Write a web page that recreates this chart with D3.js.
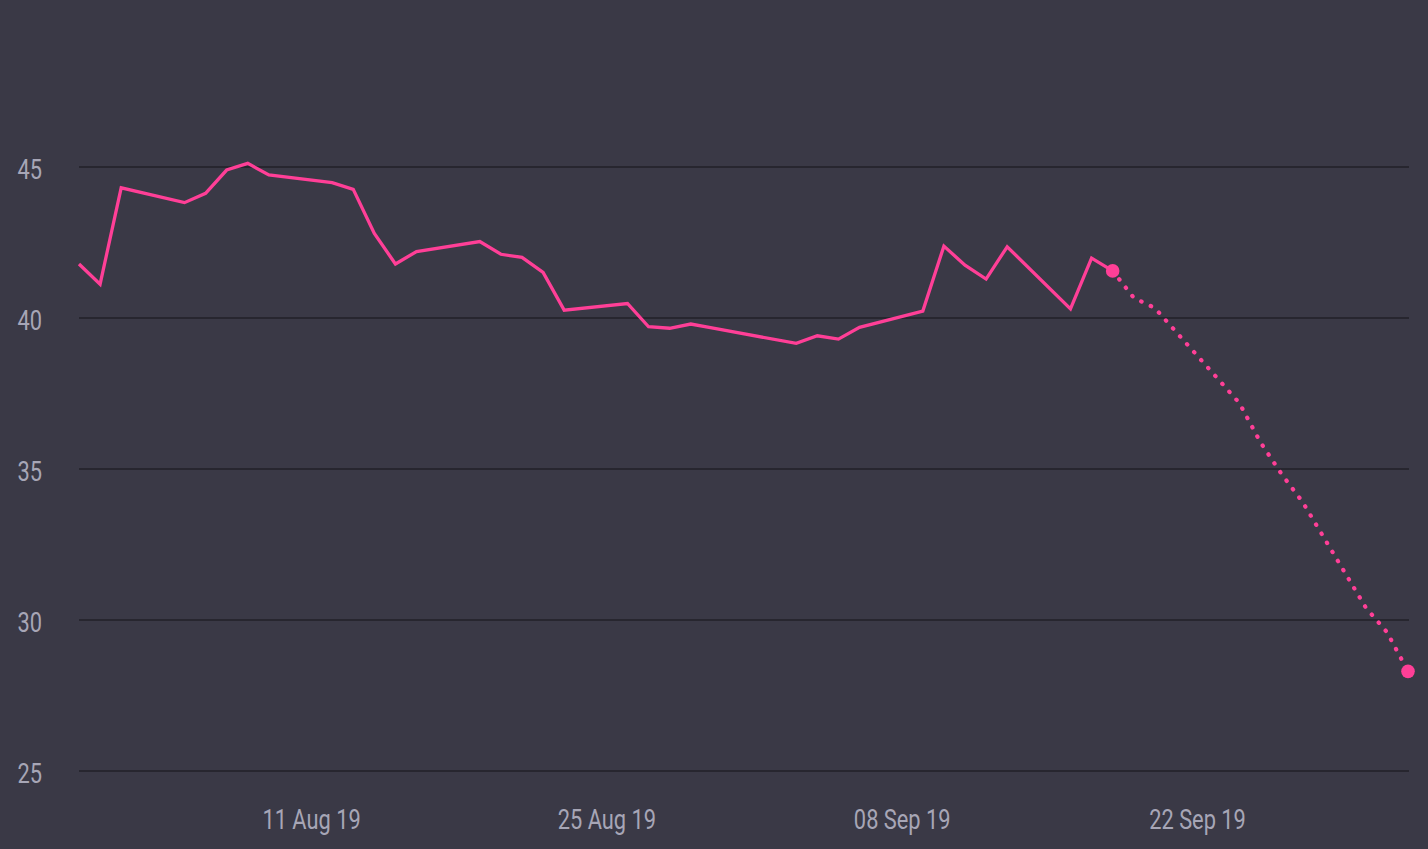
<!DOCTYPE html>
<html>
<head>
<meta charset="utf-8">
<script src="https://cdn.jsdelivr.net/npm/d3@7"></script>
<style>
  html, body { margin: 0; padding: 0; background: #3a3946; overflow: hidden; }
  svg { display: block; }
</style>
</head>
<body>
<svg id="chart" width="1428" height="849"></svg>
<script>
// Actual series (business days)
const actualDates = ["2019-07-31","2019-08-01","2019-08-02","2019-08-05","2019-08-06","2019-08-07","2019-08-08","2019-08-09",
  "2019-08-12","2019-08-13","2019-08-14","2019-08-15","2019-08-16","2019-08-19","2019-08-20","2019-08-21","2019-08-22","2019-08-23",
  "2019-08-26","2019-08-27","2019-08-28","2019-08-29","2019-08-30","2019-09-03","2019-09-04","2019-09-05","2019-09-06",
  "2019-09-09","2019-09-10","2019-09-11","2019-09-12","2019-09-13","2019-09-16","2019-09-17","2019-09-18"];
const actualValues = [41.79,41.12,44.31,43.82,44.13,44.90,45.12,44.74,
  44.48,44.26,42.80,41.79,42.20,42.53,42.11,42.01,41.51,40.26,
  40.48,39.71,39.66,39.80,39.67,39.16,39.41,39.30,39.69,
  40.23,42.38,41.75,41.29,42.36,40.30,41.98,41.56];
// Forecast series
const forecastDates = ["2019-09-18","2019-09-19","2019-09-20","2019-09-24","2019-09-25","2019-09-26","2019-09-27","2019-09-30","2019-10-01","2019-10-02"];
const forecastValues = [41.56,40.67,40.33,37.19,35.89,34.84,33.91,30.41,29.60,28.30];
// Axis ticks
const yTicks = [25,30,35,40,45];
const xTickDates = ["2019-08-11","2019-08-25","2019-09-08","2019-09-22"];

const parse = d3.timeParse("%Y-%m-%d");
const actual = actualDates.map((d,i)=>({date:parse(d), value:actualValues[i]}));
const forecast = forecastDates.map((d,i)=>({date:parse(d), value:forecastValues[i]}));

const W = 1428, H = 849;
const margin = {left:79, right:20, top:167, bottom:78};
const svg = d3.select("#chart");

const x = d3.scaleTime()
  .domain([parse("2019-07-31"), parse("2019-10-02")])
  .range([margin.left, W - margin.right]);
const y = d3.scaleLinear()
  .domain([25, 45])
  .range([H - margin.bottom, margin.top]);

const fontFam = "Roboto, 'Noto Sans', sans-serif";
const textColor = "#a7a6b6";
const squeeze = 0.78;

// Gridlines
const gridX2 = x.range()[1] + 1;
svg.append("g").selectAll("line").data(yTicks).join("line")
  .attr("x1", margin.left).attr("x2", gridX2)
  .attr("y1", d=>y(d)).attr("y2", d=>y(d))
  .attr("stroke", "#27262f").attr("stroke-width", 2);

// Y axis labels
svg.append("g").selectAll("text").data(yTicks).join("text")
  .attr("transform", d=>`translate(42,${y(d)}) scale(${squeeze},1)`)
  .attr("dy", "0.43em")
  .attr("text-anchor", "end")
  .attr("fill", textColor)
  .style("font-family", fontFam)
  .style("font-weight", 400)
  .style("font-size", "28px")
  .text(d=>d);

// X axis
const xAxis = d3.axisBottom(x)
  .tickValues(xTickDates.map(parse))
  .tickFormat(d3.timeFormat("%d %b %y"))
  .tickSize(0).tickPadding(0);
const gx = svg.append("g").attr("transform", `translate(0, 829)`).call(xAxis);
gx.select(".domain").remove();
gx.selectAll("text")
  .attr("y", 0).attr("dy", 0)
  .attr("transform", `scale(${squeeze},1)`)
  .attr("fill", textColor)
  .style("font-family", fontFam)
  .style("font-weight", 400)
  .style("font-size", "28px");

const pink = "#ff3f97";
const line = d3.line().x(d=>x(d.date)).y(d=>y(d.value));

// Forecast dotted line
svg.append("path").datum(forecast)
  .attr("d", line)
  .attr("fill", "none")
  .attr("stroke", pink)
  .attr("stroke-width", 4.2)
  .attr("stroke-linecap", "round")
  .attr("stroke-dasharray", "0.5 10.1");

// Actual line
svg.append("path").datum(actual)
  .attr("d", line)
  .attr("fill", "none")
  .attr("stroke", pink)
  .attr("stroke-width", 3.3)
  .attr("stroke-linejoin", "miter");

// End markers
const markers = [actual[actual.length-1], forecast[forecast.length-1]];
svg.append("g").selectAll("circle").data(markers).join("circle")
  .attr("cx", d=>x(d.date)).attr("cy", d=>y(d.value))
  .attr("r", 6.8).attr("fill", pink);
</script>
</body>
</html>
